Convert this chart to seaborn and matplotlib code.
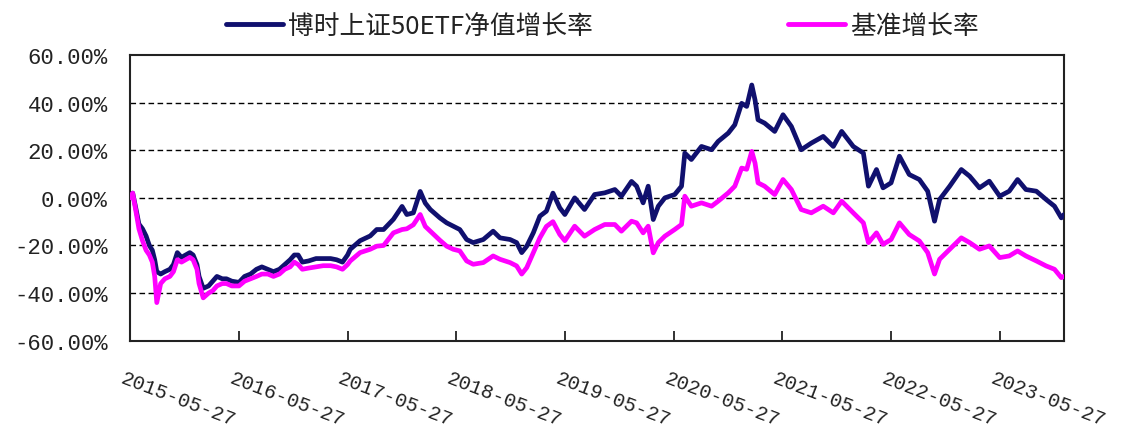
import matplotlib
matplotlib.use("Agg")
import pandas as pd
import matplotlib.pyplot as plt
import matplotlib.transforms as mtransforms
from matplotlib.lines import Line2D
import seaborn as sns

# 数据 (% growth since 2015-05-27)
dates = [
    "2015-05-27", "2015-06-05", "2015-06-15", "2015-06-26", "2015-07-08", "2015-07-20",
    "2015-07-31", "2015-08-10", "2015-08-18", "2015-08-25", "2015-09-07", "2015-09-21",
    "2015-10-08", "2015-10-20", "2015-11-02", "2015-11-16", "2015-11-30", "2015-12-14",
    "2015-12-25", "2016-01-07", "2016-01-14", "2016-01-28", "2016-02-15", "2016-02-29",
    "2016-03-14", "2016-04-01", "2016-04-15", "2016-05-03", "2016-05-27", "2016-06-15",
    "2016-07-05", "2016-07-25", "2016-08-12", "2016-09-01", "2016-09-20", "2016-10-10",
    "2016-10-28", "2016-11-15", "2016-11-29", "2016-12-12", "2016-12-26", "2017-01-16",
    "2017-02-10", "2017-03-06", "2017-03-31", "2017-04-20", "2017-05-10", "2017-05-27",
    "2017-06-05", "2017-07-08", "2017-08-11", "2017-09-02", "2017-09-25", "2017-10-28",
    "2017-11-26", "2017-12-12", "2018-01-03", "2018-01-26", "2018-02-12", "2018-03-01",
    "2018-04-02", "2018-04-25", "2018-05-17", "2018-06-08", "2018-07-01", "2018-07-23",
    "2018-08-26", "2018-09-28", "2018-10-21", "2018-11-24", "2018-12-16", "2019-01-02",
    "2019-01-19", "2019-02-10", "2019-03-04", "2019-03-26", "2019-04-17", "2019-05-10",
    "2019-05-27", "2019-06-29", "2019-08-01", "2019-09-04", "2019-10-08", "2019-11-11",
    "2019-12-03", "2020-01-06", "2020-01-23", "2020-02-14", "2020-03-02", "2020-03-19",
    "2020-04-05", "2020-04-27", "2020-05-30", "2020-06-22", "2020-07-03", "2020-07-25",
    "2020-08-28", "2020-10-01", "2020-10-23", "2020-11-26", "2020-12-18", "2021-01-10",
    "2021-01-27", "2021-02-13", "2021-02-24", "2021-03-06", "2021-03-28", "2021-05-01",
    "2021-05-29", "2021-06-26", "2021-07-29", "2021-09-01", "2021-10-11", "2021-11-14",
    "2021-12-12", "2022-01-20", "2022-02-23", "2022-03-12", "2022-04-08", "2022-04-30",
    "2022-05-27", "2022-06-24", "2022-07-27", "2022-08-30", "2022-09-27", "2022-10-20",
    "2022-11-06", "2022-12-10", "2023-01-18", "2023-02-15", "2023-03-20", "2023-04-22",
    "2023-05-27", "2023-06-28", "2023-07-26", "2023-08-23", "2023-09-27", "2023-10-30",
    "2023-11-27", "2023-12-20", "2023-12-29",
]
fund = [
    0, 2, -4, -11, -13, -16,
    -20, -22, -26, -31, -32, -31,
    -30, -28, -23, -25, -24, -23,
    -24, -28, -33, -38, -37, -35,
    -33, -34, -34, -35, -35.5, -33,
    -32, -30, -29, -30, -31, -30,
    -28, -26, -24, -24, -27, -26.5,
    -25.5, -25.5, -25.5, -26, -27, -24,
    -21.6, -18, -16, -13.3, -13.3, -9,
    -3.6, -7, -6.3, 2.7, -2.2, -4.9,
    -8.4, -10.5, -11.9, -13.3, -17.5, -18.8,
    -17.5, -14, -16.8, -17.5, -18.8, -23,
    -20.3, -14.7, -7.7, -5.6, 2, -4.2,
    -7, 0, -4.9, 1.4, 2.1, 3.5,
    0.7, 6.9, 4.9, -2.1, 4.9, -9.1,
    -3.5, 0, 1.4, 4.9, 18.8, 16.1,
    21.6, 20.2, 23.7, 27.2, 30.7, 39.7,
    38.4, 47.4, 41.1, 32.8, 31.4, 27.9,
    34.9, 30, 20.2, 23, 25.8, 21.6,
    27.9, 21.6, 18.8, 4.9, 11.9, 4.2,
    6.3, 17.5, 9.8, 7.7, 2.8, -9.8,
    -0.7, 4.9, 11.9, 9.1, 4.2, 7,
    0.7, 2.8, 7.7, 3.5, 2.8, -0.7,
    -3.5, -8.4, -7,
]
bench = [
    0, 2, -5, -13, -18, -22,
    -24, -27, -33, -44, -36, -34,
    -33, -31, -26, -27, -26, -25,
    -26, -30, -36, -42, -40, -39,
    -37, -36, -36, -37, -37, -35,
    -34, -33, -32, -32, -33, -32,
    -30, -29, -27, -28, -30, -29.5,
    -29, -28.5, -28.5, -29, -30, -28,
    -26.5, -23, -21.6, -20.3, -20, -14.7,
    -13.3, -13, -11.3, -7, -12, -14,
    -17.8, -20.3, -21.6, -22.3, -26.5, -27.9,
    -27.2, -24.4, -25.8, -27.2, -28.6, -32,
    -29.3, -23, -16.8, -12, -10, -15.4,
    -18, -11.9, -16.1, -13.3, -11.2, -11.2,
    -14, -9.8, -10.5, -14.7, -11.9, -23.1,
    -18.8, -16.1, -13.3, -11.2, 0.7, -3.5,
    -2.1, -3.5, -1.4, 2.1, 4.9, 12.5,
    12, 19.5, 14.6, 6.3, 4.9, 1.4,
    7.7, 3.5, -4.9, -6.3, -3.5, -6.3,
    -1.4, -6.3, -10.5, -18.8, -14.7, -19.5,
    -17.5, -10.5, -15.4, -18.1, -23, -32,
    -25.8, -21.6, -16.8, -18.8, -21.6, -20.2,
    -25.1, -24.4, -22.3, -24.4, -26.5, -28.6,
    -30, -33.5, -33,
]
series_names = ["博时上证50ETF净值增长率", "基准增长率"]
tick_dates = ["2015-05-27", "2016-05-27", "2017-05-27", "2018-05-27", "2019-05-27",
              "2020-05-27", "2021-05-27", "2022-05-27", "2023-05-27"]
y_ticks = [-60, -40, -20, 0, 20, 40, 60]

navy = "#10106e"
magenta = "#ff00ff"

sns.set_theme(style="white")
plt.rcParams["font.family"] = ["Noto Sans CJK SC", "DejaVu Sans"]

df = pd.DataFrame({"date": pd.to_datetime(dates),
                   series_names[0]: fund,
                   series_names[1]: bench})
df = df.melt(id_vars="date", var_name="series", value_name="value")

fig = plt.figure(figsize=(11.24, 4.31), dpi=100)
ax = fig.add_axes([130 / 1124, 1 - 341.7 / 431, 934 / 1124, (341.7 - 56) / 431])

sns.lineplot(data=df, x="date", y="value", hue="series", hue_order=series_names,
             palette=[navy, magenta], linewidth=3.4, ax=ax, legend=False, zorder=3)

# dashed grid lines
for v in y_ticks[1:-1]:
    ax.axhline(v, color="black", linewidth=1, linestyle=(0, (4, 2.5)), zorder=1)

ax.set_xlim(pd.Timestamp("2015-05-27"), pd.Timestamp("2023-12-29"))
ax.set_ylim(-60, 60)
ax.set_xlabel("")
ax.set_ylabel("")

ax.set_yticks(y_ticks)
ax.set_yticklabels([f"{v:.2f}%" for v in y_ticks], family="Liberation Mono",
                   fontsize=16, color="#222222")
ax.set_xticks(pd.to_datetime(tick_dates))
ax.set_xticklabels(tick_dates, family="Liberation Mono", fontsize=14.5,
                   color="#222222", rotation=-21, ha="left", va="top")
ax.tick_params(axis="x", direction="in", length=7, width=1.3, color="#222222",
               pad=20, bottom=True)
ax.tick_params(axis="y", left=False, pad=10)
shift = mtransforms.ScaledTranslation(-0.12, 0, fig.dpi_scale_trans)
for lab in ax.get_xticklabels():
    lab.set_transform(lab.get_transform() + shift)

for sp in ax.spines.values():
    sp.set_visible(True)
    sp.set_color("#222222")
    sp.set_linewidth(1.5)

handles = [Line2D([0], [0], color=navy, linewidth=3.5),
           Line2D([0], [0], color=magenta, linewidth=3.5)]
fig.legend(handles, series_names, loc="center", bbox_to_anchor=(0.536, 0.937),
           ncol=2, frameon=False, fontsize=18.5, handlelength=2.2, handletextpad=0.2,
           columnspacing=7.6, labelcolor="#222222")

fig.savefig("out.png", dpi=100, facecolor="white")
